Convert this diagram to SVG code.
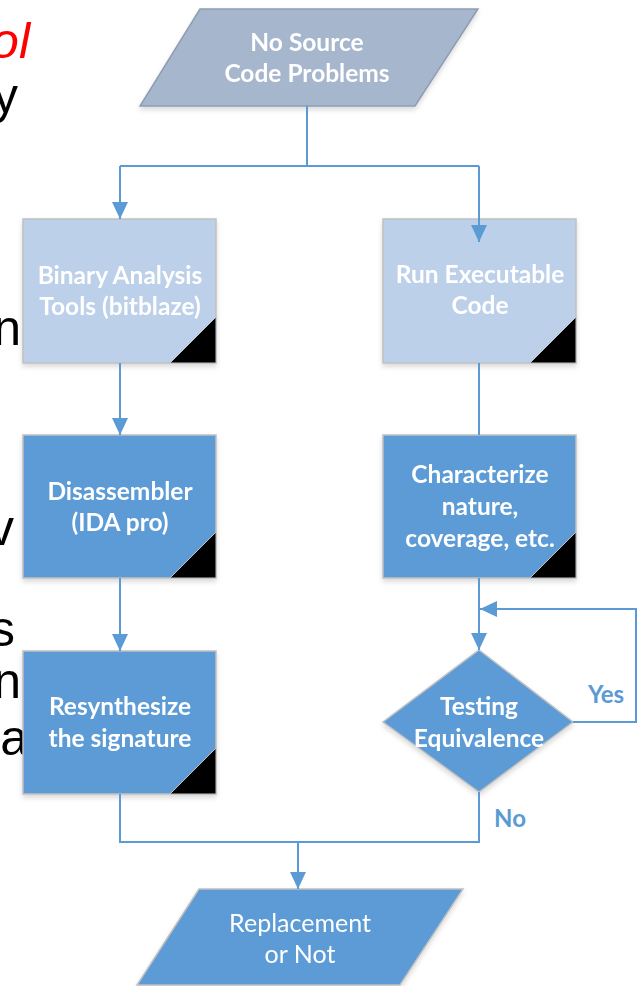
<svg xmlns="http://www.w3.org/2000/svg" width="637" height="986" viewBox="0 0 637 986">
<style>
.lt{fill:#BDD0E9;stroke:#C0C0C0;stroke-width:1.5}
.dk{fill:#5B9BD5;stroke:#C0C0C0;stroke-width:1.5}
.tp{fill:#A6B6CC;stroke:#8E9DB2;stroke-width:1.5}
.fold{fill:#000;stroke:#C0C0C0;stroke-width:1}
.t{font-family:Lato,"Open Sans",sans-serif;font-size:24.5px;font-weight:bold;fill:#fff;text-anchor:middle}
.tn{font-family:Lato,"Open Sans",sans-serif;font-size:25px;fill:#fff;text-anchor:middle}
.lbl{font-family:Lato,"Open Sans",sans-serif;font-size:24px;font-weight:bold;fill:#5B9BD5;text-anchor:middle}
.c{fill:none;stroke:#5B9BD5;stroke-width:2}
.s{font-family:"Liberation Sans",Arial,sans-serif;font-size:50px;fill:#000;text-anchor:end}
</style>
<defs>
<marker id="ah" markerUnits="userSpaceOnUse" markerWidth="17" markerHeight="16" refX="17" refY="8" orient="auto">
<path d="M0,0 L17,8 L0,16 z" fill="#5B9BD5"/>
</marker>
<filter id="sh" x="-10%" y="-10%" width="120%" height="130%">
<feDropShadow dx="0" dy="3" stdDeviation="2.5" flood-color="#000" flood-opacity="0.15"/>
</filter>
</defs>

<g id="slide-text">
<text x="30" y="58" class="s" style="fill:#FF0000;font-style:italic">ol</text>
<text x="18" y="113" class="s">y</text>
<text x="21" y="345" class="s">n</text>
<text x="14" y="545" class="s">v</text>
<text x="15" y="646" class="s">s</text>
<text x="21" y="698" class="s">n</text>
<text x="28" y="755" class="s">a</text>
</g>

<g id="node-start" filter="url(#sh)">
<polygon class="tp" points="200,9 478,9 415,106 140,106"/>
<text class="t" x="307" y="51">No Source</text>
<text class="t" x="307" y="82">Code Problems</text>
</g>

<g id="node-binary" filter="url(#sh)">
<rect class="lt" x="23" y="219" width="193" height="144"/>
<polygon class="fold" points="216,317 216,363 170,363"/>
<text class="t" x="120" y="284">Binary Analysis</text>
<text class="t" x="120" y="315">Tools (bitblaze)</text>
</g>

<g id="node-run" filter="url(#sh)">
<rect class="lt" x="383" y="219" width="193" height="144"/>
<polygon class="fold" points="576,317 576,363 530,363"/>
<text class="t" x="480" y="283">Run Executable</text>
<text class="t" x="480" y="314">Code</text>
</g>

<g id="node-disasm" filter="url(#sh)">
<rect class="dk" x="23" y="435" width="193" height="143"/>
<polygon class="fold" points="216,532 216,578 170,578"/>
<text class="t" x="120" y="500">Disassembler</text>
<text class="t" x="120" y="531">(IDA pro)</text>
</g>

<g id="node-char" filter="url(#sh)">
<rect class="dk" x="383" y="435" width="193" height="143"/>
<polygon class="fold" points="576,532 576,578 530,578"/>
<text class="t" x="480" y="483">Characterize</text>
<text class="t" x="480" y="515">nature,</text>
<text class="t" x="480" y="547">coverage, etc.</text>
</g>

<g id="node-resynth" filter="url(#sh)">
<rect class="dk" x="23" y="651" width="193" height="143"/>
<polygon class="fold" points="216,748 216,794 170,794"/>
<text class="t" x="120" y="715">Resynthesize</text>
<text class="t" x="120" y="747">the signature</text>
</g>

<g id="node-test" filter="url(#sh)">
<polygon class="dk" points="479,650 573,722 479,792 383,722"/>
<text class="t" x="479" y="715">Testing</text>
<text class="t" x="479" y="747">Equivalence</text>
</g>

<g id="node-end" filter="url(#sh)">
<polygon class="dk" points="199,889 463,889 400,985 137,985"/>
<text class="tn" x="300" y="932">Replacement</text>
<text class="tn" x="300" y="963">or Not</text>
</g>

<g id="connectors">
<polyline class="c" points="307,106 307,166"/>
<polyline class="c" points="120,166 479,166"/>
<polyline class="c" points="120,166 120,219" marker-end="url(#ah)"/>
<polyline class="c" points="479,166 479,242" marker-end="url(#ah)"/>
<polyline class="c" points="120,363 120,435" marker-end="url(#ah)"/>
<polyline class="c" points="479,363 479,435"/>
<polyline class="c" points="120,578 120,651" marker-end="url(#ah)"/>
<polyline class="c" points="479,578 479,650" marker-end="url(#ah)"/>
<polyline class="c" points="573,722 636,722 636,609 480,609" marker-end="url(#ah)"/>
<polyline class="c" points="120,794 120,842 479,842 479,792"/>
<polyline class="c" points="298,842 298,889" marker-end="url(#ah)"/>
<text class="lbl" x="606" y="703">Yes</text>
<text class="lbl" x="510" y="827">No</text>
</g>
</svg>
